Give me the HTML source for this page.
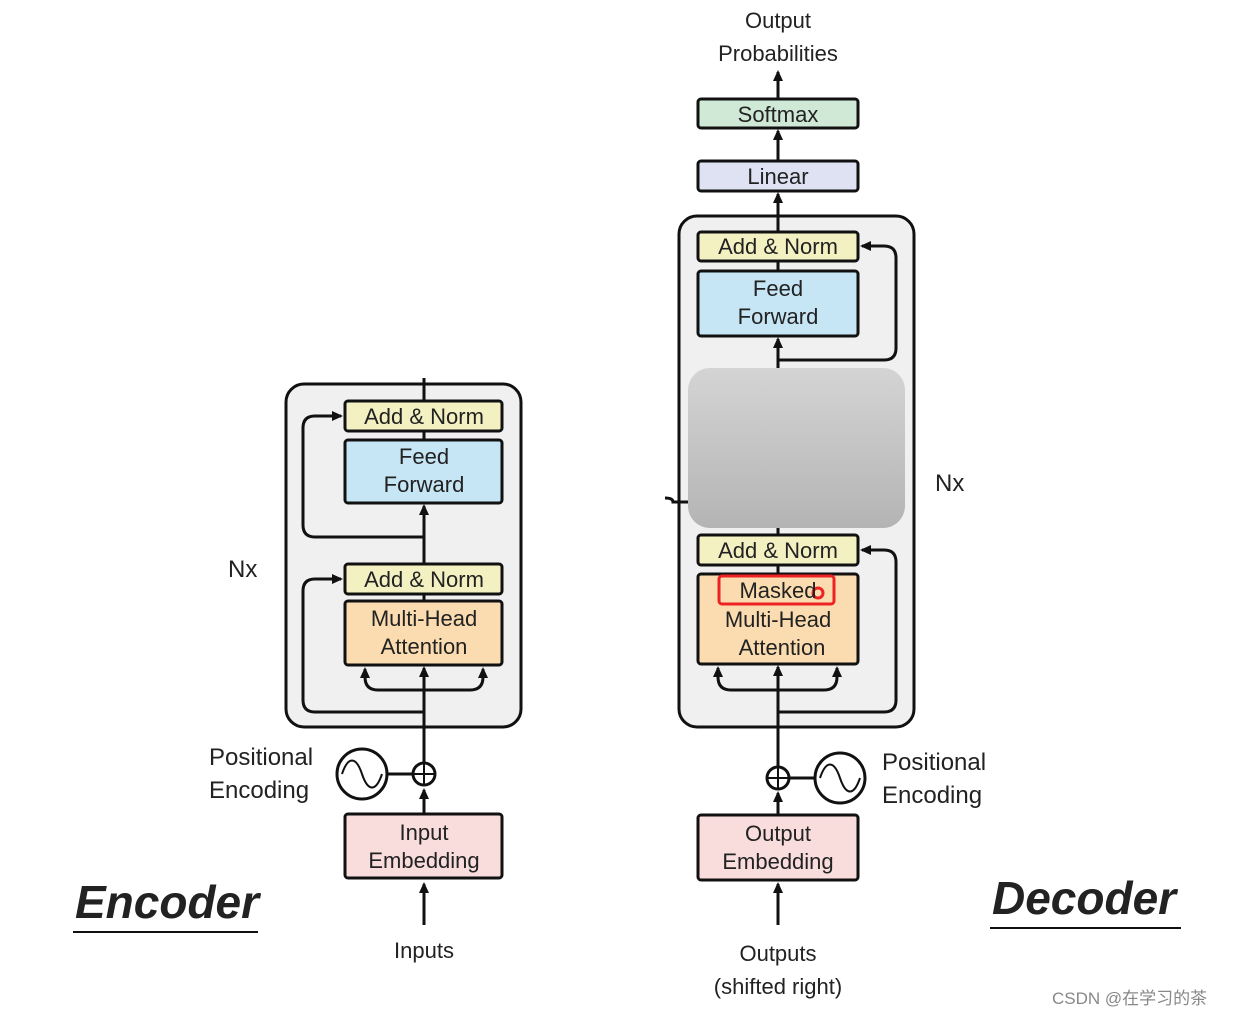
<!DOCTYPE html><html><head><style>body{margin:0;background:#fff}svg{display:block}text{font-family:"Liberation Sans",sans-serif;fill:#222}</style></head><body>
<svg width="1239" height="1016" viewBox="0 0 1239 1016" xmlns="http://www.w3.org/2000/svg">
<defs><marker id="a" markerWidth="12" markerHeight="12" refX="9" refY="6" orient="auto" markerUnits="userSpaceOnUse"><path d="M0,1L11,6L0,11z" fill="#111"/></marker></defs>
<g stroke="#111" stroke-width="3" fill="none">
<!-- Encoder -->
<rect x="286" y="384" width="235" height="343" rx="18" fill="#f0f0f0"/>
<line x1="424" y1="378" x2="424" y2="401"/>
<line x1="424" y1="925" x2="424" y2="884" marker-end="url(#a)"/>
<line x1="424" y1="814" x2="424" y2="790" marker-end="url(#a)"/>
<line x1="424" y1="763" x2="424" y2="668" marker-end="url(#a)"/>
<line x1="424" y1="601" x2="424" y2="594"/>
<line x1="424" y1="564" x2="424" y2="506" marker-end="url(#a)"/>
<line x1="424" y1="440" x2="424" y2="431"/>
<path d="M424,712H315q-12,0 -12,-12V591q0,-12 12,-12H341" marker-end="url(#a)"/>
<path d="M424,537H315q-12,0 -12,-12V428q0,-12 12,-12H341" marker-end="url(#a)"/>
<path d="M424,690H378q-13,0 -13,-13V669" marker-end="url(#a)"/>
<path d="M424,690H470q13,0 13,-13V669" marker-end="url(#a)"/>
<line x1="387" y1="774" x2="413" y2="774"/>
<circle cx="362" cy="774" r="25" fill="#fff"/>
<path d="M342,774c6,-18 14,-18 20,0s14,18 20,0" stroke-width="2"/>
<circle cx="424" cy="774" r="11" fill="#fff"/>
<path d="M424,763v22M413,774h22" stroke-width="2"/>
<rect x="345" y="401" width="157" height="30" rx="3" fill="#f3f1c2"/>
<rect x="345" y="440" width="157" height="63" rx="3" fill="#c7e6f5"/>
<rect x="345" y="564" width="157" height="30" rx="3" fill="#f3f1c2"/>
<rect x="345" y="601" width="157" height="64" rx="3" fill="#fbdcb0"/>
<rect x="345" y="814" width="157" height="64" rx="3" fill="#f9dcdc"/>
<!-- Decoder -->
<rect x="679" y="216" width="235" height="511" rx="18" fill="#f0f0f0"/>
<line x1="778" y1="925" x2="778" y2="884" marker-end="url(#a)"/>
<line x1="778" y1="815" x2="778" y2="793" marker-end="url(#a)"/>
<line x1="778" y1="767" x2="778" y2="667" marker-end="url(#a)"/>
<line x1="778" y1="574" x2="778" y2="565"/>
<line x1="778" y1="535" x2="778" y2="360"/>
<line x1="778" y1="360" x2="778" y2="339" marker-end="url(#a)"/>
<line x1="778" y1="271" x2="778" y2="261"/>
<line x1="778" y1="232" x2="778" y2="194" marker-end="url(#a)"/>
<line x1="778" y1="161" x2="778" y2="131" marker-end="url(#a)"/>
<line x1="778" y1="99" x2="778" y2="72" marker-end="url(#a)"/>
<path d="M778,712H884q12,0 12,-12V562q0,-12 -12,-12H862" marker-end="url(#a)"/>
<path d="M778,360H884q12,0 12,-12V258q0,-12 -12,-12H862" marker-end="url(#a)"/>
<path d="M778,690H731q-13,0 -13,-13V668" marker-end="url(#a)"/>
<path d="M778,690H824q13,0 13,-13V668" marker-end="url(#a)"/>
<path d="M665,498q8,0 8,4h15"/>
<line x1="789" y1="778" x2="815" y2="778"/>
<circle cx="840" cy="778" r="25" fill="#fff"/>
<path d="M820,778c6,-18 14,-18 20,0s14,18 20,0" stroke-width="2"/>
<circle cx="778" cy="778" r="11" fill="#fff"/>
<path d="M778,767v22M767,778h22" stroke-width="2"/>
<rect x="698" y="99" width="160" height="29" rx="3" fill="#cfe9d6"/>
<rect x="698" y="161" width="160" height="30" rx="3" fill="#dfe2f3"/>
<rect x="698" y="232" width="160" height="29" rx="3" fill="#f3f1c2"/>
<rect x="698" y="271" width="160" height="65" rx="3" fill="#c7e6f5"/>
<rect x="698" y="535" width="160" height="30" rx="3" fill="#f3f1c2"/>
<rect x="698" y="574" width="160" height="90" rx="3" fill="#fbdcb0"/>
<rect x="698" y="815" width="160" height="65" rx="3" fill="#f9dcdc"/>
</g>
<defs><linearGradient id="g" x1="0" y1="0" x2="0" y2="1"><stop offset="0" stop-color="#d4d4d4"/><stop offset="1" stop-color="#b4b4b4"/></linearGradient></defs>
<rect x="688" y="368" width="217" height="160" rx="22" fill="url(#g)"/>
<rect x="719" y="576" width="115" height="28" rx="3" fill="none" stroke="#e22" stroke-width="3"/>
<circle cx="818" cy="593" r="5" fill="none" stroke="#e22" stroke-width="3"/>
<g font-size="22" text-anchor="middle">
<text x="424" y="424">Add &amp; Norm</text>
<text x="424" y="464">Feed</text><text x="424" y="492">Forward</text>
<text x="424" y="587">Add &amp; Norm</text>
<text x="424" y="626">Multi-Head</text><text x="424" y="654">Attention</text>
<text x="424" y="840">Input</text><text x="424" y="868">Embedding</text>
<text x="424" y="958">Inputs</text>
<text x="778" y="28">Output</text><text x="778" y="61">Probabilities</text>
<text x="778" y="122">Softmax</text>
<text x="778" y="184">Linear</text>
<text x="778" y="254">Add &amp; Norm</text>
<text x="778" y="296">Feed</text><text x="778" y="324">Forward</text>
<text x="778" y="558">Add &amp; Norm</text>
<text x="778" y="598">Masked</text>
<text x="778" y="627">Multi-Head</text><text x="782" y="655">Attention</text>
<text x="778" y="841">Output</text><text x="778" y="869">Embedding</text>
<text x="778" y="961">Outputs</text><text x="778" y="994">(shifted right)</text>
</g>
<g font-size="24">
<text x="209" y="765">Positional</text><text x="209" y="798">Encoding</text>
<text x="882" y="770">Positional</text><text x="882" y="803">Encoding</text>
<text x="228" y="577">Nx</text><text x="935" y="491">Nx</text>
</g>
<text x="75" y="918" font-size="46" font-weight="bold" font-style="italic" fill="#000">Encoder</text>
<line x1="73" y1="932" x2="258" y2="932" stroke="#111" stroke-width="2"/>
<text x="992" y="914" font-size="46" font-weight="bold" font-style="italic" fill="#000">Decoder</text>
<line x1="990" y1="928" x2="1181" y2="928" stroke="#111" stroke-width="2"/>
<text x="1052" y="1004" font-size="17" style="fill:#888;font-family:'Liberation Sans','Noto Sans CJK SC',sans-serif">CSDN @在学习的茶</text>
</svg></body></html>
